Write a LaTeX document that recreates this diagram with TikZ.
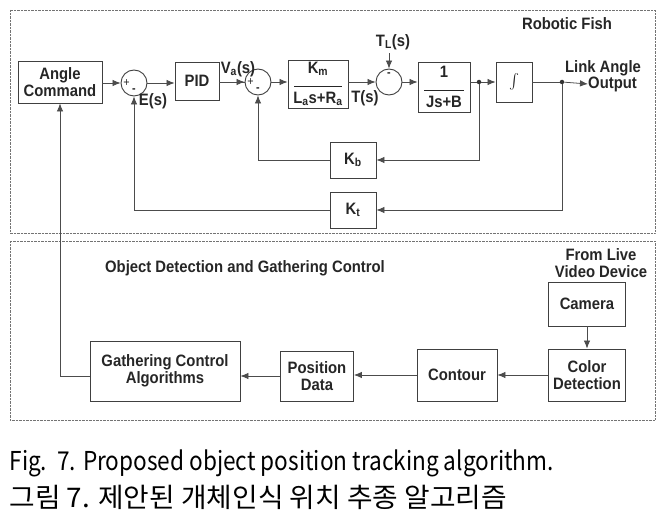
\documentclass[tikz,border=0pt]{standalone}
\usepackage{graphicx}
\usepackage{fontspec}
\setmainfont{Liberation Sans}[FakeStretch=0.9]
\newfontfamily\kor{Noto Sans CJK KR}
\usetikzlibrary{arrows.meta}

\begin{document}
\begin{tikzpicture}[x=1pt,y=-1pt,>={Latex[length=8pt,width=6.5pt]},
  every node/.style={font=\fontsize{16.5}{17.5}\selectfont\bfseries,text=black!85},
  blk/.style={draw=black!75,line width=0.9pt,align=center,inner sep=2pt},
  sumj/.style={draw=black!75,line width=0.9pt,circle,minimum size=26pt,inner sep=0pt},
  sgn/.style={font=\fontsize{12}{12}\selectfont,inner sep=0pt},
  wire/.style={draw=black!70,line width=0.8pt},
  dot/.style={circle,fill=black!80,minimum size=4.5pt,inner sep=0pt}]
\useasboundingbox (0,0) rectangle (665,511);
\draw[black!55,densely dotted] (10,10) rectangle (655,233);
\draw[black!55,densely dotted] (10,241) rectangle (655,420);

% robotic fish loop
\node at (567,24) {Robotic Fish};
\node[blk,minimum width=84,minimum height=42] (cmd) at (60,82) {Angle\\Command};
\node[sumj] (sA) at (134,83) {};
\node[blk,minimum width=44,minimum height=38] (pid) at (197,81) {PID};
\node[sumj] (sB) at (258,82) {};
\node[blk,minimum width=60,minimum height=44] (motor) at (318,84)
  {K\textsubscript{m}\\[-4pt]\rule{48pt}{0.9pt}\\[-1pt]L\textsubscript{a}s+R\textsubscript{a}};
\node[sumj] (sC) at (389,82) {};
\node[blk,minimum width=52,minimum height=50] (plant) at (444,87)
  {1\\[-4pt]\rule{40pt}{0.9pt}\\[-1pt]Js+B};
\node[dot] (d1) at (479,82) {};
\node[blk,minimum width=36,minimum height=40] (intg) at (514,82)
  {\scalebox{1.5}{\(\mathit{\int}\)}};
\node[dot] (d2) at (562,82) {};
\node[anchor=west,inner sep=0pt] (outp) at (588,84) {Output};
\node at (603,68) {Link Angle};

\node[sgn] at ([xshift=6pt]sA.west) {+};
\node[sgn] at ([yshift=6pt]sA.south) {\textbf{-}};
\node[sgn] at ([xshift=6pt]sB.west) {+};
\node[sgn] at ([yshift=6pt]sB.south) {\textbf{-}};
\node[sgn] at ([yshift=-6pt]sC.north) {\textbf{-}};

\node at (153,101) {E(s)};
\node at (238,69) {V\textsubscript{a}(s)};
\node at (365,98) {T(s)};
\node (tl) at (393,42) {T\textsubscript{L}(s)};

\draw[wire,->] (cmd.east |- sA) -- (sA.west);
\draw[wire,->] (sA.east) -- (pid.west |- sA);
\draw[wire] (pid.east |- sB) -- (sB.west);
\draw[wire,->] ([xshift=-22pt]sB.west) -- (sB.west);
\draw[wire,->] (sB.east) -- (motor.west |- sB);
\draw[wire,->] (motor.east |- sC) -- (sC.west);
\draw[wire,->] (sC.east) -- (plant.west |- sC);
\draw[wire,->] (tl.south -| sC) -- (sC.north);
\draw[wire] (plant.east |- d1) -- (d1);
\draw[wire,->] (d1) -- (intg.west);
\draw[wire] (intg.east) -- (d2);
\draw[wire,->] (d2) -- (outp.west);

% feedback paths
\node[blk,minimum width=46,minimum height=36] (kb) at (353,160) {K\textsubscript{b}};
\node[blk,minimum width=46,minimum height=36] (kt) at (353,210) {K\textsubscript{t}};
\draw[wire,->] (d1) |- (kb.east);
\draw[wire,->] (kb.west) -| (sB.south);
\draw[wire,->] (d2) |- (kt.east);
\draw[wire,->] (kt.west) -| (sA.south);

% object detection
\node at (245,268) {Object Detection and Gathering Control};
\node[align=center] at (601,263) {From Live\\Video Device};
\node[blk,minimum width=77,minimum height=44] (cam) at (587,304) {Camera};
\node[blk,minimum width=77,minimum height=52] (cdet) at (587,375) {Color\\Detection};
\node[blk,minimum width=80,minimum height=52] (cont) at (457,375) {Contour};
\node[blk,minimum width=73,minimum height=50] (pos) at (317,376) {Position\\Data};
\node[blk,minimum width=150,minimum height=60] (gca) at (165,371) {Gathering Control\\Algorithms};
\draw[wire,->] (cam) -- (cdet);
\draw[wire,->] (cdet.west) -- (cont.east |- cdet.west);
\draw[wire,->] (cont.west) -- (pos.east |- cont.west);
\draw[wire,->] (pos.west) -- (gca.east |- pos.west);
\draw[wire,->] (gca.west |- pos.west) -| (cmd.south);

% caption
\node[anchor=west,text=black,font=\kor\fontsize{26}{30}\selectfont] (capE) at (6,463)
  {\scalebox{0.87}[1]{Fig.~~7. Proposed object position tracking algorithm.}};
\node[anchor=west,text=black,font=\kor\fontsize{27}{30}\selectfont] (capK) at (6,497)
  {\scalebox{1.03}[1]{그림 7. 제안된 개체인식 위치 추종 알고리즘}};
\end{tikzpicture}
\end{document}
